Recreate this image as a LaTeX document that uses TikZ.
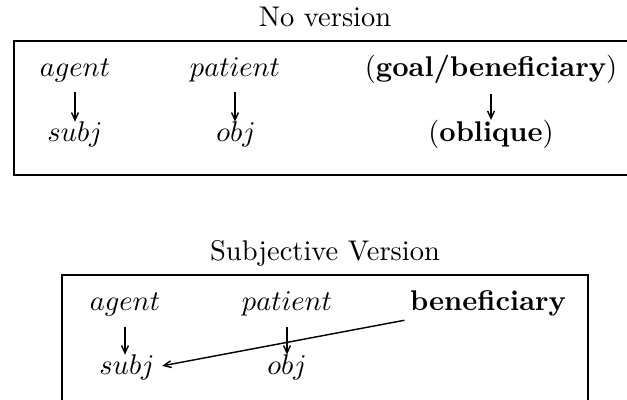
\documentclass[tikz,border=0pt]{standalone}
\usetikzlibrary{arrows.meta}
\begin{document}
\begin{tikzpicture}[x=0.351pt, y=-0.351pt,
    lbl/.style={inner sep=0pt, anchor=base},
    arr/.style={-{Straight Barb[length=2.6pt,width=2.4pt]}, line width=0.5pt},
    map/.style={arr, shorten <=3.3pt},
    frame/.style={line width=1pt}]
  \useasboundingbox (0,0) rectangle (627,400);
  % no version
  \node[lbl] (ttlA) at (325,27) {No version};
  \draw[frame] (14,41) rectangle (640,175);
  \node[lbl] (agA) at (75,77) {$agent$};
  \node[lbl] (paA) at (235,77) {$patient$};
  \node[lbl] (goA) at (491,77) {(\textbf{goal/beneficiary})};
  \node[lbl] (sbA) at (75,142) {$subj$};
  \node[lbl] (obA) at (236,142) {$obj$};
  \node[lbl] (olA) at (491,142) {(\textbf{oblique})};
  \draw[map] (agA.south) -- (agA.south |- sbA.north);
  \draw[map] (paA.south) -- (paA.south |- obA.north);
  \draw[map] (goA.south) -- (goA.south |- olA.north);
  % subjective version
  \node[lbl] (ttlB) at (325,261) {Subjective Version};
  \draw[frame] (62,275) rectangle (588,409);
  \node[lbl] (agB) at (125,311) {$agent$};
  \node[lbl] (paB) at (287,311) {$patient$};
  \node[lbl] (bnB) at (488,311) {\textbf{beneficiary}};
  \node[lbl] (sbB) at (127,375) {$subj$};
  \node[lbl] (obB) at (287,375) {$obj$};
  \draw[map] (agB.south) -- (agB.south |- sbB.north);
  \draw[map] (paB.south) -- (paB.south |- obB.north);
  \draw[arr] ([shift={(-5,3)}]bnB.south west) -- ([shift={(7,-2)}]sbB.east);
\end{tikzpicture}
\end{document}
